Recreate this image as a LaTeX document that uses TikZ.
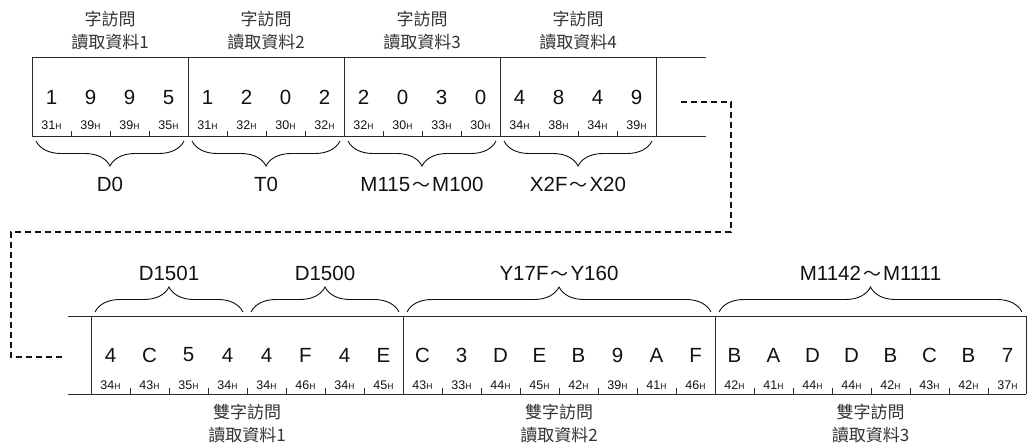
\documentclass[tikz,border=0pt]{standalone}
\usepackage{fontspec}
\setmainfont{Liberation Sans}
\newfontfamily\cjk{Noto Sans CJK TC}
\usetikzlibrary{decorations.pathreplacing}
\definecolor{ink}{HTML}{111111}
\definecolor{rule}{HTML}{2A2A2A}
\definecolor{cjkink}{HTML}{333333}
\newcommand{\hx}[1]{#1{\fontsize{8.5}{9}\selectfont H}}
\newcommand{\tld}{\hspace{2pt}{\cjk\fontsize{18}{20}\selectfont ～}\hspace{2pt}}
\begin{document}
\begin{tikzpicture}[x=1pt,y=-1pt,
  boxline/.style={draw=rule, line width=1pt},
  digit/.style={font=\fontsize{20.5}{24}\selectfont, text=ink, inner sep=0pt},
  hex/.style={font=\fontsize{12.5}{14}\selectfont, text=ink, inner sep=0pt},
  lbl/.style={font=\cjk\fontsize{17}{23}\selectfont, text=cjkink, align=center, inner sep=0pt},
  addr/.style={font=\fontsize{20.5}{24}\selectfont, text=ink, inner sep=0pt},
  brc/.style={draw=ink, line width=0.9pt, decorate, decoration={brace, amplitude=25pt}},
  dashline/.style={draw=ink, line width=2.2pt, dash pattern=on 6pt off 4pt}]
\useasboundingbox (0,0) rectangle (1027,446);

% ---------- top row ----------
\draw[boxline] (32,58) -- (706,58) (32,137) -- (706,137);
\foreach \x in {32,188,344,500,656} \draw[boxline] (\x,58) -- (\x,137);
\foreach \j in {1,2,3,5,6,7,9,10,11,13,14,15}
  \draw[boxline] ({32+39*\j},137) -- ({32+39*\j},131);
\foreach \d [count=\i from 0] in {1,9,9,5,1,2,0,2,2,0,3,0,4,8,4,9}
  \node[digit] (td\i) at ({51.5+39*\i},97.5) {\d};
\foreach \h [count=\i from 0] in {31,39,39,35,31,32,30,32,32,30,33,30,34,38,34,39}
  \node[hex] (th\i) at ({51.5+39*\i},125) {\hx{\h}};

\node[lbl] (tl1) at (110,30.5) {字訪問\\讀取資料1};
\node[lbl] (tl2) at (266,30.5) {字訪問\\讀取資料2};
\node[lbl] (tl3) at (422,30.5) {字訪問\\讀取資料3};
\node[lbl] (tl4) at (578,30.5) {字訪問\\讀取資料4};

\foreach \c in {0,1,2,3}
  \draw[brc] ({32+156*\c+152},141) -- ({32+156*\c+4},141);
\node[addr] (ta1) at (110,184) {D0};
\node[addr] (ta2) at (266,184) {T0};
\node[addr] (ta3) at (422,184) {M115\tld M100};
\node[addr] (ta4) at (578,184) {X2F\tld X20};

% ---------- dashed continuation ----------
\coordinate (ds) at (681,102);
\coordinate (dc1) at (731,102);
\coordinate (dc2) at (731,232);
\coordinate (dc3) at (11,232);
\coordinate (dc4) at (11,357);
\coordinate (de) at (65,357);
\draw[dashline] (ds) -- (dc1) -- (dc2) -- (dc3) -- (dc4) -- (de);

% ---------- bottom row ----------
\draw[boxline] (68,316) -- (1026,316) (68,394) -- (1026,394);
\foreach \x in {91,403,715,1026} \draw[boxline] (\x,316) -- (\x,394);
\foreach \j in {1,...,7,9,10,11,12,13,14,15,17,18,19,20,21,22,23}
  \draw[boxline] ({91+39*\j},394) -- ({91+39*\j},388);
\foreach \d [count=\i from 0] in {4,C,5,4,4,F,4,E,C,3,D,E,B,9,A,F,B,A,D,D,B,C,B,7}
  \node[digit] (bd\i) at ({110.5+39*\i},355) {\d};
\foreach \h [count=\i from 0] in {34,43,35,34,34,46,34,45,43,33,44,45,42,39,41,46,42,41,44,44,42,43,42,37}
  \node[hex] (bh\i) at ({110.5+39*\i},385) {\hx{\h}};

\draw[brc] (95,312) -- (243,312);
\draw[brc] (251,312) -- (399,312);
\draw[brc] (407,312) -- (711,312);
\draw[brc] (719,312) -- (1022,312);
\node[addr] (ba1) at (169,273) {D1501};
\node[addr] (ba2) at (325,273) {D1500};
\node[addr] (ba3) at (559,273) {Y17F\tld Y160};
\node[addr] (ba4) at (870.5,273) {M1142\tld M1111};

\node[lbl] (bl1) at (247,424) {雙字訪問\\讀取資料1};
\node[lbl] (bl2) at (559,424) {雙字訪問\\讀取資料2};
\node[lbl] (bl3) at (870.5,424) {雙字訪問\\讀取資料3};
\end{tikzpicture}
\end{document}
